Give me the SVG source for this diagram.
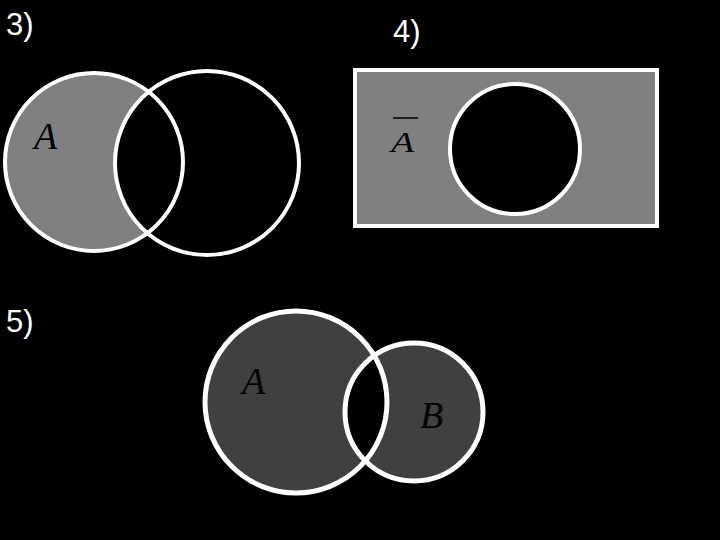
<svg xmlns="http://www.w3.org/2000/svg" width="720" height="540" viewBox="0 0 720 540">
<style>
.num{font-family:"Liberation Sans",Arial,sans-serif;font-size:31px;fill:#ffffff}
.var{font-family:"Liberation Serif","Times New Roman",serif;font-style:italic;font-size:38px;fill:#000000}
.ring{fill:none;stroke:#ffffff;stroke-width:4}
</style>
<defs>
<clipPath id="clipA5"><circle cx="296" cy="402" r="91"/></clipPath>
</defs>
<rect x="0" y="0" width="720" height="540" fill="#000000"/>
<g id="fig3">
<text class="num" x="6" y="35">3)</text>
<circle cx="94" cy="162" r="89" fill="#808080"/>
<circle cx="207" cy="163" r="92" fill="#000000"/>
<circle class="ring" cx="94" cy="162" r="89"/>
<circle class="ring" cx="207" cy="163" r="92"/>
<text class="var" x="34" y="149">A</text>
</g>
<g id="fig4">
<text class="num" x="393" y="42">4)</text>
<rect x="355" y="70" width="302" height="156" fill="#808080" stroke="#ffffff" stroke-width="4"/>
<circle cx="515" cy="149" r="65" fill="#000000" stroke="#ffffff" stroke-width="4"/>
<text class="var" x="391" y="152" transform="translate(0,152) scale(1,0.78) translate(0,-152)">A</text>
<line x1="393" y1="118" x2="418" y2="118" stroke="#000000" stroke-width="1.5"/>
</g>
<g id="fig5">
<text class="num" x="6" y="332">5)</text>
<circle cx="296" cy="402" r="91" fill="#404040"/>
<circle cx="414" cy="412" r="69" fill="#404040"/>
<circle cx="414" cy="412" r="69" fill="#000000" clip-path="url(#clipA5)"/>
<circle class="ring" cx="296" cy="402" r="91" style="stroke-width:5"/>
<circle class="ring" cx="414" cy="412" r="69" style="stroke-width:5"/>
<text class="var" x="242" y="394">A</text>
<text class="var" x="420" y="428">B</text>
</g>
</svg>
